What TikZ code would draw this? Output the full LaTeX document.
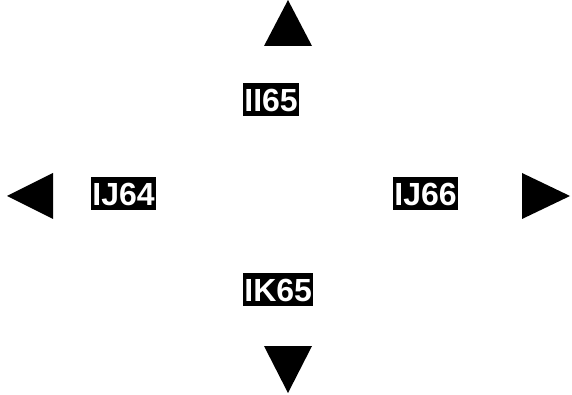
\documentclass[tikz,border=0pt]{standalone}
\usepackage{fontspec}
\setmainfont{Liberation Sans}
\tikzset{
  lbl/.style={fill=black, text=white, font=\fontsize{32}{32}\selectfont\bfseries,
    inner xsep=1.2pt, inner ysep=0pt, text height=28pt, text depth=5pt, anchor=north west},
  tri/.style={fill=black}
}
\begin{document}
\begin{tikzpicture}[x=1pt,y=-1pt]
\useasboundingbox (0,0) rectangle (572,395);
% labels
\node[lbl] (ii65) at (243,83) {II65};
\node[lbl] (ij64) at (91,177) {IJ64};
\node[lbl] (ij66) at (393,177) {IJ66};
\node[lbl] (ik65) at (243,273) {IK65};
% arrows
\fill[tri] (288,0) -- (312,46) -- (264,46) -- cycle;
\fill[tri] (264,346) -- (312,346) -- (288,393) -- cycle;
\fill[tri] (7,196) -- (53,173) -- (53,219) -- cycle;
\fill[tri] (570,196) -- (522,173) -- (522,219) -- cycle;
\end{tikzpicture}
\end{document}
